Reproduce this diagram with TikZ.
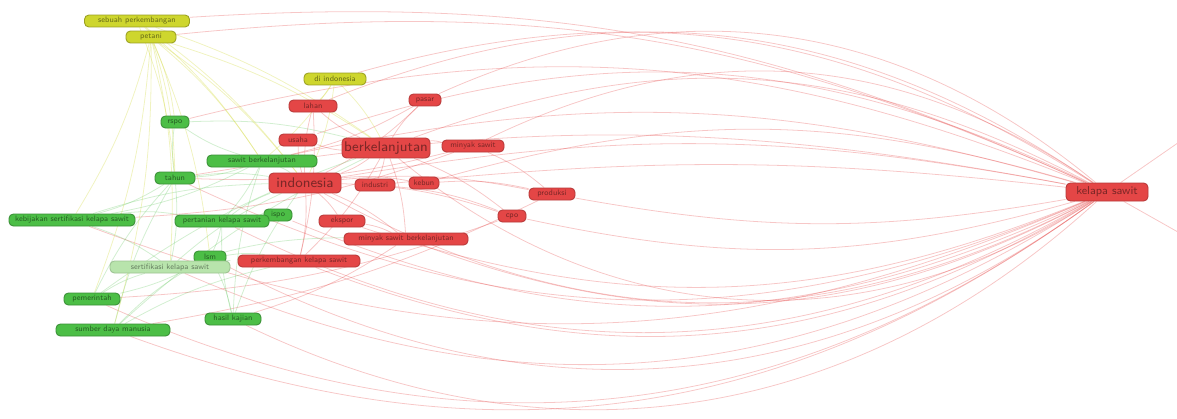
\documentclass[tikz,border=0pt]{standalone}
\usepackage{tikz}
\usetikzlibrary{backgrounds}
\definecolor{ClRed}{RGB}{228,70,70}
\definecolor{ClGreen}{RGB}{76,190,70}
\definecolor{ClYellow}{RGB}{206,214,46}
\definecolor{ClLight}{RGB}{184,228,172}

\begin{document}
\begin{tikzpicture}[
        x=0.02cm, y=-0.02cm,
        kw/.style={rectangle, rounded corners=2.5pt, minimum height=0.24cm, inner sep=1pt, line width=0.5pt, font=\sffamily\fontsize{4.5}{5}\selectfont},
        wd/.style={minimum width=#1*0.02cm},
        big/.style={minimum height=0.4cm, font=\sffamily\fontsize{8}{9}\selectfont},
        rbox/.style={kw, fill=ClRed, draw=ClRed!80!black, text=ClRed!55!black},
        gbox/.style={kw, fill=ClGreen, draw=ClGreen!75!black, text=ClGreen!50!black},
        ybox/.style={kw, fill=ClYellow, draw=ClYellow!75!black, text=ClYellow!50!black},
        lbox/.style={kw, fill=ClLight, draw=ClLight!85!black, text=ClLight!55!black},
        rlink/.style={draw=ClRed, draw opacity=0.3, line width=0.45pt},
        glink/.style={draw=ClGreen, draw opacity=0.25, line width=0.45pt},
        ylink/.style={draw=ClYellow, draw opacity=0.3, line width=0.45pt}
    ]
        \useasboundingbox (0,0) rectangle (1177,419);

        % Klaster kuning
        \node[ybox, wd=105] (yperk) at (137,21) {sebuah perkembangan};
        \node[ybox, wd=50] (ypet) at (151,37) {petani};
        \node[ybox, wd=62] (ydi) at (335,79) {di indonesia};

        % Klaster merah
        \node[rbox, wd=48] (lahan) at (313,106) {lahan};
        \node[rbox, wd=32] (pasar) at (425,100) {pasar};
        \node[rbox, wd=38] (usaha) at (298,140) {usaha};
        \node[rbox, big, wd=88] (berk) at (386,148) {berkelanjutan};
        \node[rbox, wd=62] (minyak) at (473,146) {minyak sawit};
        \node[rbox, big, wd=72] (indo) at (305,183) {indonesia};
        \node[rbox, wd=40] (industri) at (375,185) {industri};
        \node[rbox, wd=30] (kebun) at (424,183) {kebun};
        \node[rbox, wd=46] (produksi) at (552,194) {produksi};
        \node[rbox, wd=28] (crpo) at (512,216) {cpo};
        \node[rbox, wd=46] (ekspor) at (342,221) {ekspor};
        \node[rbox, wd=124] (mskb) at (406,239) {minyak sawit berkelanjutan};
        \node[rbox, wd=122] (pks) at (299,261) {perkembangan kelapa sawit};
        \node[rbox, minimum height=0.36cm, wd=82, font=\sffamily\fontsize{6.5}{7}\selectfont] (ks) at (1107,192) {kelapa sawit};

        % Klaster hijau
        \node[gbox, wd=28] (rspo) at (175,122) {rspo};
        \node[gbox, wd=110] (sawitb) at (262,161) {sawit berkelanjutan};
        \node[gbox, wd=40] (tahun) at (175,178) {tahun};
        \node[gbox, wd=126] (kebijakan) at (72,220) {kebijakan sertifikasi kelapa sawit};
        \node[gbox, wd=28] (ispo) at (278,215) {ispo};
        \node[gbox, wd=94] (pertanian) at (222,221) {pertanian kelapa sawit};
        \node[gbox, wd=32] (lsm) at (210,257) {lsm};
        \node[lbox, wd=120] (sertif) at (170,267) {sertifikasi kelapa sawit};
        \node[gbox, wd=56] (pemerintah) at (92,299) {pemerintah};
        \node[gbox, wd=114] (sdm) at (113,330) {sumber daya manusia};
        \node[gbox, wd=56] (hasil) at (233,319) {hasil kajian};

        \coordinate (keluarA) at (1185,138);
        \coordinate (keluarB) at (1185,236);

        \begin{pgfonlayer}{background}
        % Busur atas dari kelapa sawit
        \foreach \t/\b in {yperk/14, ypet/15, ydi/24, lahan/28, pasar/32, usaha/22, berk/24, minyak/30, rspo/18, sawitb/14, tahun/10, indo/10, kebun/16, industri/6}
            \draw[rlink] (ks) to[bend right=\b] (\t);
        % Busur bawah dari kelapa sawit
        \foreach \t/\b in {produksi/10, crpo/14, ekspor/20, mskb/24, pks/26, kebijakan/22, pertanian/28, ispo/24, lsm/32, sertif/28, pemerintah/30, sdm/28, hasil/34, indo/28, berk/36, tahun/24}
            \draw[rlink] (ks) to[bend left=\b] (\t);
        \draw[rlink] (ks) -- (keluarA);
        \draw[rlink] (ks) -- (keluarB);

        % Hubungan di klaster kiri
        \foreach \s/\t in {berk/indo, berk/industri, berk/minyak, berk/lahan, berk/pasar, berk/usaha, indo/ekspor, indo/pks, indo/mskb, indo/usaha, indo/lahan, indo/kebun, indo/produksi, indo/crpo, minyak/produksi, berk/crpo, berk/mskb, pasar/indo, lahan/pks, ekspor/mskb, industri/crpo, kebun/produksi, berk/pks, produksi/sdm, crpo/pemerintah, mskb/hasil, minyak/kebijakan, pasar/sawitb, minyak/tahun}
            \draw[rlink] (\s) to[bend left=8] (\t);
        \foreach \s/\t in {sawitb/tahun, sawitb/rspo, sawitb/kebijakan, sawitb/pertanian, tahun/kebijakan, tahun/sertif, tahun/rspo, pertanian/lsm, lsm/sertif, lsm/pemerintah, lsm/hasil, hasil/pertanian, sdm/tahun, sdm/lsm, pemerintah/tahun, kebijakan/sertif, ispo/pertanian, sawitb/indo, tahun/indo, pertanian/indo, lsm/pks, sertif/mskb, hasil/indo, pemerintah/berk, sdm/berk, kebijakan/indo, rspo/berk, hasil/sawitb, sdm/pks, kebijakan/pertanian, sertif/indo, pemerintah/sertif}
            \draw[glink] (\s) to[bend left=8] (\t);
        \foreach \s/\t in {ypet/tahun, ypet/rspo, ypet/kebijakan, ypet/sertif, ypet/pemerintah, ypet/sdm, ypet/sawitb, ypet/indo, ypet/berk, yperk/indo, yperk/berk, yperk/sawitb, ydi/indo, ydi/berk, ydi/lahan, ydi/sawitb, ypet/lsm, yperk/tahun}
            \draw[ylink] (\s) to[bend left=8] (\t);
        \end{pgfonlayer}
    \end{tikzpicture}
\end{document}
